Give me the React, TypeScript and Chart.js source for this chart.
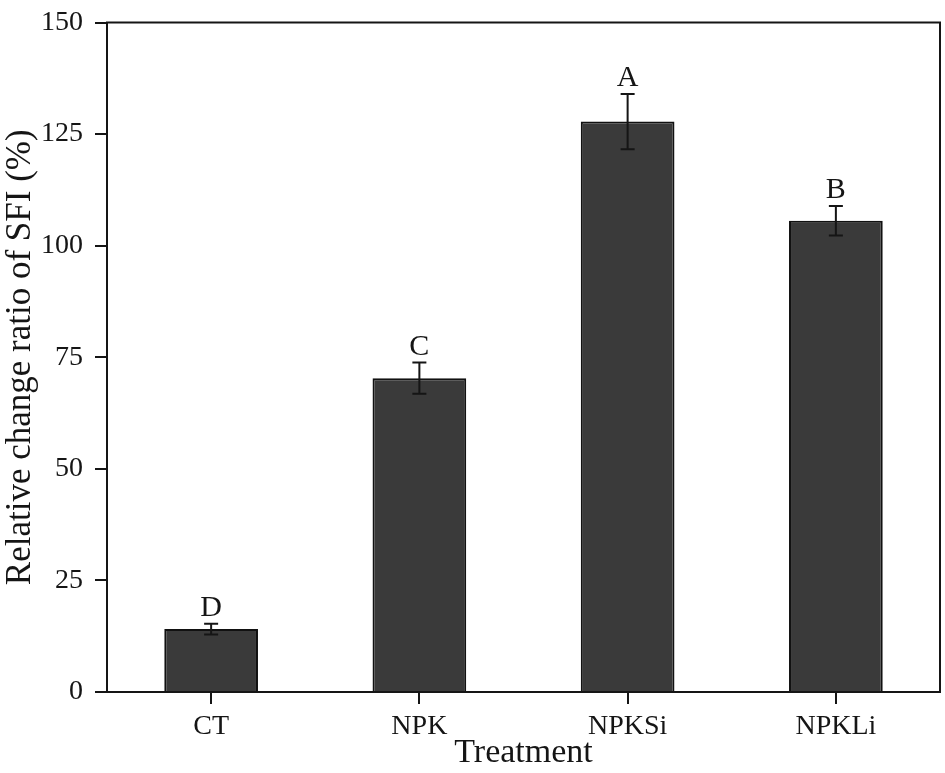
import React, { useEffect, useRef } from "react";
import { Chart, registerables } from "chart.js";

Chart.register(...registerables);

const categories = ["CT", "NPK", "NPKSi", "NPKLi"];
const values = [14.1, 70.3, 127.8, 105.6];
const errors = [1.2, 3.5, 6.2, 3.3];
const letters = ["D", "C", "A", "B"];
const yTicks = [0, 25, 50, 75, 100, 125, 150];

const FONT = "'Liberation Serif', 'Times New Roman', serif";
const INK = "#151515";

const annotatePlugin = {
  id: "annotate",
  afterDatasetsDraw(chart: any) {
    const ctx = chart.ctx;
    const meta = chart.getDatasetMeta(0);
    const y = chart.scales.y;
    ctx.save();
    ctx.strokeStyle = INK;
    ctx.fillStyle = INK;
    ctx.lineWidth = 2;
    meta.data.forEach((bar: any, i: number) => {
      const x = bar.x;
      const top = y.getPixelForValue(values[i] + errors[i]);
      const bot = y.getPixelForValue(values[i] - errors[i]);
      const cap = 7;
      ctx.beginPath();
      ctx.moveTo(x, top);
      ctx.lineTo(x, bot);
      ctx.moveTo(x - cap, top);
      ctx.lineTo(x + cap, top);
      ctx.moveTo(x - cap, bot);
      ctx.lineTo(x + cap, bot);
      ctx.stroke();
      ctx.font = `30px ${FONT}`;
      ctx.textAlign = "center";
      ctx.textBaseline = "alphabetic";
      ctx.fillText(letters[i], x, top - 8);
    });
    const a = chart.chartArea;
    ctx.lineWidth = 2;
    ctx.strokeRect(a.left, a.top, a.right - a.left, a.bottom - a.top);
    ctx.restore();
  },
};

export default function App() {
  const ref = useRef<HTMLCanvasElement | null>(null);
  useEffect(() => {
    if (!ref.current) return;
    const chart = new Chart(ref.current, {
      type: "bar",
      data: {
        labels: categories,
        datasets: [
          {
            data: values,
            backgroundColor: "#3a3a3a",
            borderColor: "#111111",
            borderWidth: 2,
            barPercentage: 0.45,
            categoryPercentage: 1,
          },
        ],
      },
      options: {
        animation: false,
        responsive: false,
        devicePixelRatio: 1,
        layout: { padding: { top: 22.5, right: 5, left: 0, bottom: 0 } },
        plugins: { legend: { display: false }, tooltip: { enabled: false } },
        scales: {
          x: {
            offset: true,
            grid: {
              offset: false,
              drawOnChartArea: false,
              drawTicks: true,
              tickLength: 12,
              color: INK,
              lineWidth: 2,
            },
            border: { display: true, color: INK, width: 2 },
            ticks: { font: { family: FONT, size: 28 }, color: INK, padding: 6, maxRotation: 0 },
            title: {
              display: true,
              text: "Treatment",
              font: { family: FONT, size: 34 },
              color: INK,
              padding: { top: 0, bottom: 0 },
            },
            afterFit(scale: any) {
              scale.height = 81;
              scale.paddingLeft = 0;
              scale.paddingRight = 0;
            },
          },
          y: {
            min: 0,
            max: 150,
            afterBuildTicks(scale: any) {
              scale.ticks = yTicks.map((v) => ({ value: v }));
            },
            grid: {
              drawOnChartArea: false,
              drawTicks: true,
              tickLength: 12,
              color: INK,
              lineWidth: 2,
            },
            border: { display: true, color: INK, width: 2 },
            ticks: { font: { family: FONT, size: 28 }, color: INK, padding: 12 },
            title: {
              display: true,
              text: "Relative change ratio of SFI (%)",
              font: { family: FONT, size: 35 },
              color: INK,
              padding: { top: 0, bottom: 0 },
            },
            afterFit(scale: any) {
              scale.width = 107;
              scale.paddingTop = 0;
              scale.paddingBottom = 0;
            },
          },
        },
      },
      plugins: [annotatePlugin],
    });
    return () => chart.destroy();
  }, []);
  return (
    <div style={{ position: "fixed", left: 0, top: 0, width: 945, height: 773, background: "#fff" }}>
      <canvas ref={ref} width={945} height={773} style={{ width: 945, height: 773, display: "block" }} />
    </div>
  );
}
